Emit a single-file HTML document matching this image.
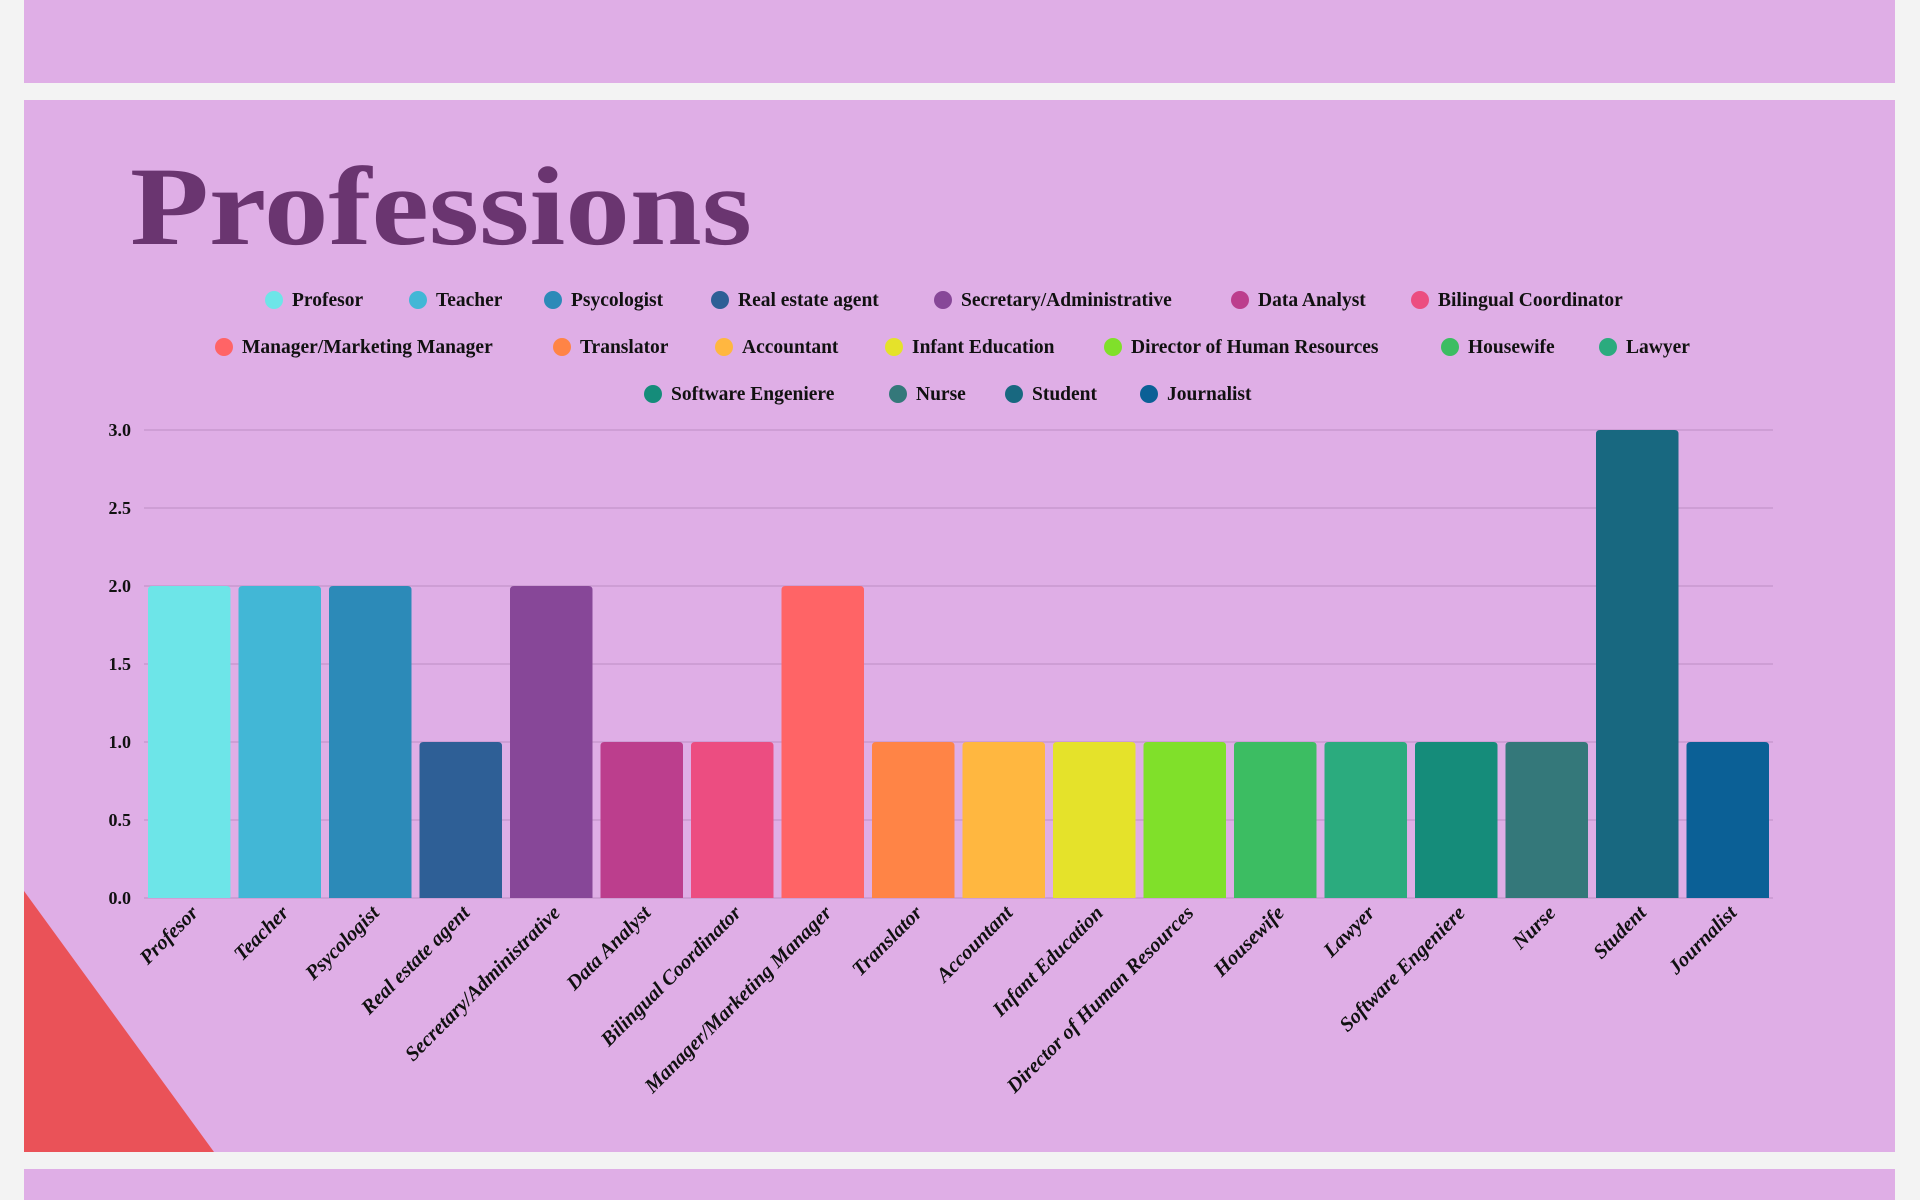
<!DOCTYPE html>
<html><head><meta charset="utf-8"><style>
html,body{margin:0;padding:0;background:#f3f3f3;width:1920px;height:1200px;overflow:hidden}
svg{display:block}
text{font-family:"Liberation Serif",serif;font-weight:bold;fill:#111}
</style></head><body>
<svg width="1920" height="1200" viewBox="0 0 1920 1200">
<rect x="0" y="0" width="1920" height="1200" fill="#f3f3f3"/>
<rect x="24" y="0" width="1871" height="83" fill="#dfaee6"/>
<rect x="24" y="100" width="1871" height="1052" fill="#dfaee6"/>
<rect x="24" y="1169" width="1871" height="40" fill="#dfaee6"/>
<polygon points="24,891 24,1152 214,1152" fill="#ea5258"/>
<text x="130" y="244" style="font-size:112px;fill:#6a3570" textLength="622" lengthAdjust="spacingAndGlyphs">Professions</text>
<g id="leg"></g>
<g stroke="#c999cf" stroke-width="1.5">
<line x1="144" x2="1773" y1="430" y2="430"/><line x1="144" x2="1773" y1="508" y2="508"/>
<line x1="144" x2="1773" y1="586" y2="586"/><line x1="144" x2="1773" y1="664" y2="664"/>
<line x1="144" x2="1773" y1="742" y2="742"/><line x1="144" x2="1773" y1="820" y2="820"/>
<line x1="144" x2="1773" y1="898" y2="898"/>
</g>
<g style="font-size:18px" text-anchor="end">
<text x="131" y="436">3.0</text><text x="131" y="514">2.5</text><text x="131" y="592">2.0</text>
<text x="131" y="670">1.5</text><text x="131" y="748">1.0</text><text x="131" y="826">0.5</text><text x="131" y="904">0.0</text>
</g>
<g id="bars"></g>
</svg>
<script>
var d=[["Profesor",2,"#6de5e8"],["Teacher",2,"#42b7d6"],["Psycologist",2,"#2c8ab8"],["Real estate agent",1,"#2e5f96"],["Secretary/Administrative",2,"#874798"],["Data Analyst",1,"#bc3e8d"],["Bilingual Coordinator",1,"#ec4d81"],["Manager/Marketing Manager",2,"#ff6466"],["Translator",1,"#ff8446"],["Accountant",1,"#ffb740"],["Infant Education",1,"#e5e22a"],["Director of Human Resources",1,"#80e02a"],["Housewife",1,"#3cbd62"],["Lawyer",1,"#2bab7e"],["Software Engeniere",1,"#158c7a"],["Nurse",1,"#34787a"],["Student",3,"#186880"],["Journalist",1,"#0b6096"]];
var ns="http://www.w3.org/2000/svg",b=document.getElementById("bars"),l=document.getElementById("leg");
function el(t,a,p,txt){var e=document.createElementNS(ns,t);for(var k in a)e.setAttribute(k,a[k]);if(txt)e.textContent=txt;p.appendChild(e);return e;}
var slot=(1773-144)/18;
d.forEach(function(r,i){var x=144+i*slot+4,w=slot-8,h=r[1]*156;
el("path",{d:"M"+x+",898 V"+(898-h+4)+" q0,-4 4,-4 H"+(x+w-4)+" q4,0 4,4 V898 Z",fill:r[2]},b);
var cx=x+w/2+10;el("text",{x:cx,y:914,"text-anchor":"end",transform:"rotate(-45 "+cx+" 914)",style:"font-size:20.5px;font-style:italic"},b,r[0]);});
var rows=[[300,[274,418,553,720,943,1240,1420]],[347,[224,562,724,894,1113,1450,1608]],[394,[653,898,1014,1149]]];
var k=0;rows.forEach(function(r){r[1].forEach(function(cx){var it=d[k++];
el("circle",{cx:cx,cy:r[0],r:9,fill:it[2]},l);el("text",{x:cx+18,y:r[0]+6,style:"font-size:19.5px"},l,it[0]);});});
</script>
</body></html>
